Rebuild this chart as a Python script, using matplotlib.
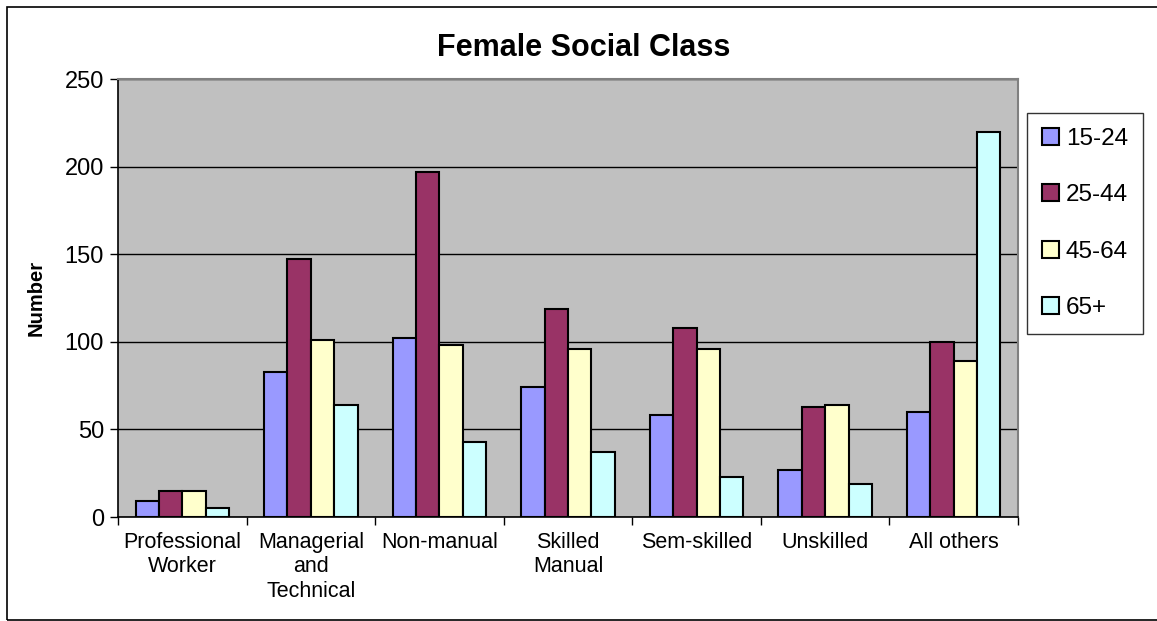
import numpy as np
import matplotlib
matplotlib.use('Agg')
import matplotlib.pyplot as plt
from matplotlib.patches import Rectangle

# данные
categories = ['Professional\nWorker', 'Managerial\nand\nTechnical', 'Non-manual',
              'Skilled\nManual', 'Sem-skilled', 'Unskilled', 'All others']
age_groups = ['15-24', '25-44', '45-64', '65+']
v_15_24 = [9, 83, 102, 74, 58, 27, 60]
v_25_44 = [15, 147, 197, 119, 108, 63, 100]
v_45_64 = [15, 101, 98, 96, 96, 64, 89]
v_65 = [5, 64, 43, 37, 23, 19, 220]
colors = ['#9999FF', '#993366', '#FFFFCC', '#CCFFFF']

plt.rcParams['font.family'] = ['Liberation Sans', 'DejaVu Sans']

fig = plt.figure(figsize=(11.57, 6.21), dpi=100)
# рамка вокруг всей диаграммы
fig.patches.append(Rectangle((7 / 1157, 0.002), 1.0, 1 - 7 / 621 - 0.002,
                             transform=fig.transFigure, fill=False,
                             edgecolor='black', linewidth=1.2))

ax = fig.add_axes([118 / 1157, 1 - 517 / 621, 900 / 1157, 438 / 621])
ax.set_facecolor('#C0C0C0')

x = np.arange(len(categories))
w = 1 / 5.5
series = [v_15_24, v_25_44, v_45_64, v_65]
for i, vals in enumerate(series):
    ax.bar(x + (i - 1.5) * w, vals, width=w, color=colors[i], edgecolor='black',
           linewidth=1.5, label=age_groups[i], zorder=3)

ax.set_xlim(-0.5, len(categories) - 0.5)
ax.set_ylim(0, 250)
ax.set_yticks(np.arange(0, 251, 50))
ax.yaxis.grid(True, color='black', linewidth=1.0, zorder=1)
ax.set_axisbelow(True)

ax.set_xticks(x)
ax.set_xticklabels(categories, fontsize=15.5, linespacing=1.2)
ax.set_xticks(np.arange(-0.5, len(categories)), minor=True)
ax.tick_params(axis='x', which='major', length=0, pad=11)
ax.tick_params(axis='x', which='minor', length=6, width=1, direction='out')
ax.tick_params(axis='y', labelsize=17, length=6, width=1, direction='out', pad=4)

for side in ['top', 'right']:
    ax.spines[side].set_color('#808080')
    ax.spines[side].set_linewidth(1.5)
for side in ['left', 'bottom']:
    ax.spines[side].set_color('black')
    ax.spines[side].set_linewidth(1.2)

ax.set_ylabel('Number', fontsize=14.5, fontweight='bold', labelpad=14)
fig.text(584 / 1157, 1 - 48 / 621, 'Female Social Class',
         fontsize=22, fontweight='bold', ha='center', va='center')

leg = ax.legend(loc='upper left', bbox_to_anchor=(1027 / 1157, 1 - 113 / 621),
                bbox_transform=fig.transFigure, fontsize=17.5, frameon=True,
                fancybox=False, edgecolor='black', handlelength=0.7,
                handleheight=0.7, handletextpad=0.3, labelspacing=1.42,
                borderpad=0.6, borderaxespad=0)
leg.get_frame().set_linewidth(1.0)

plt.savefig('out.png', dpi=100)
